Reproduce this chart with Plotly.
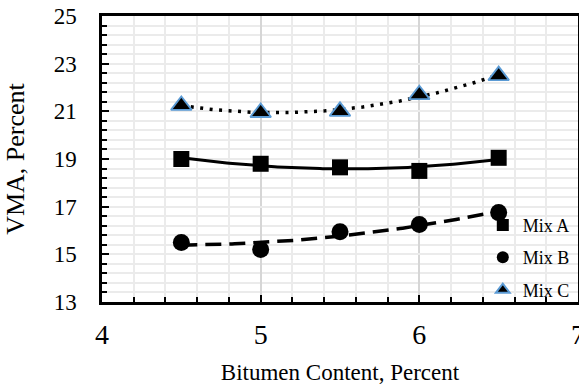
import numpy as np
import plotly.graph_objects as go

# Bitumen content (%) and measured VMA (%) for the three mixes
bitumen = [4.5, 5.0, 5.5, 6.0, 6.5]
mix_a = [19.0, 18.8, 18.65, 18.5, 19.05]
mix_b = [15.5, 15.2, 15.95, 16.25, 16.75]
mix_c = [21.25, 20.95, 21.0, 21.7, 22.5]

x_ticks = [4, 5, 6, 7]
y_ticks = [13, 15, 17, 19, 21, 23, 25]

FONT = "Liberation Serif"
BLUE = "#5B9BD5"

series = [
    ("Mix A", mix_a, dict(symbol="square", size=16, color="black"), dict(dash="solid", width=3)),
    ("Mix B", mix_b, dict(symbol="circle", size=17, color="black"), dict(dash="16px,8px", width=3.5)),
    ("Mix C", mix_c, dict(symbol="triangle-up", size=18, color="black",
                          line=dict(color=BLUE, width=1.8)), dict(dash="3px,6.5px", width=3.5)),
]

fig = go.Figure()

# second-order polynomial trendlines through each mix
xs = np.linspace(min(bitumen), max(bitumen), 120)
for name, vals, mk, ln in series:
    coef = np.polyfit(bitumen, vals, 2)
    fig.add_trace(go.Scatter(
        x=xs, y=np.polyval(coef, xs), mode="lines",
        line=dict(color="black", **ln), showlegend=False, hoverinfo="skip",
    ))

for name, vals, mk, ln in series:
    fig.add_trace(go.Scatter(
        x=bitumen, y=vals, mode="markers", name=name, marker=mk,
        legendgroup=name,
    ))

fig.update_layout(
    width=579, height=385,
    margin=dict(l=102, r=1, t=16, b=83),
    paper_bgcolor="white", plot_bgcolor="white",
    font=dict(family=FONT, color="black"),
    legend=dict(
        x=0.800, y=0.333, xanchor="left", yanchor="top",
        bgcolor="rgba(0,0,0,0)", font=dict(size=18, family=FONT),
        tracegroupgap=6, itemsizing="constant",
    ),
)

fig.update_xaxes(
    range=[4, 7], tickvals=x_ticks, ticktext=[str(v) for v in x_ticks],
    showline=True, linecolor="black", linewidth=2.5, mirror=True,
    ticks="inside", ticklen=7, tickwidth=2, tickcolor="black",
    showgrid=True, gridcolor="#D6D6D6", gridwidth=2, zeroline=False,
    tickfont=dict(size=28, family=FONT), ticklabelstandoff=6,
    ticklabeloverflow="allow",
    minor=dict(dtick=0.2, tick0=4, showgrid=True, gridcolor="#EBEBEB", gridwidth=1.5,
               ticks="inside", ticklen=5, tickwidth=2, tickcolor="black"),
    title=dict(text="Bitumen Content, Percent", font=dict(size=23, family=FONT), standoff=18),
    automargin=False,
)

fig.update_yaxes(
    range=[13, 25], tickvals=y_ticks, ticktext=[str(v) for v in y_ticks],
    showline=True, linecolor="black", linewidth=2.5, mirror=True,
    ticks="inside", ticklen=7, tickwidth=2, tickcolor="black",
    showgrid=True, gridcolor="#EBEBEB", gridwidth=1.5, zeroline=False,
    tickfont=dict(size=23, family=FONT), ticklabelstandoff=18,
    minor=dict(dtick=0.4, tick0=13, showgrid=True, gridcolor="#EBEBEB", gridwidth=1.5,
               ticks="inside", ticklen=5, tickwidth=2, tickcolor="black"),
    title=dict(text="VMA, Percent", font=dict(size=26, family=FONT), standoff=22),
    automargin=False,
)

fig.write_html("out.html")
